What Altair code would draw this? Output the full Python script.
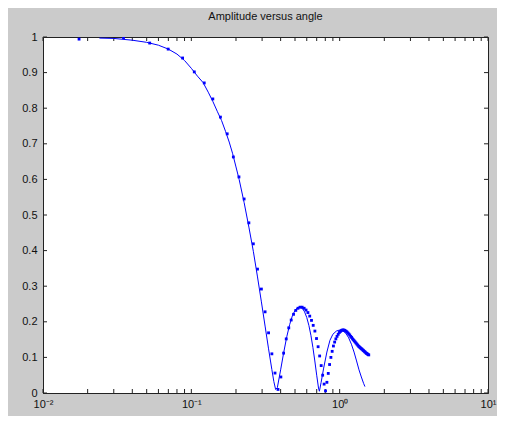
import altair as alt
import pandas as pd

# ---- data ----
dot_x = [0.0175, 0.0349, 0.0524, 0.0698, 0.0873, 0.1047, 0.1222, 0.1396, 0.1571, 0.1745,
         0.1920, 0.2094, 0.2269, 0.2443, 0.2618, 0.2793, 0.2967, 0.3142, 0.3316, 0.3491,
         0.3665, 0.3840, 0.4014, 0.4189, 0.4363, 0.4538, 0.4712, 0.4887, 0.5061, 0.5236,
         0.5411, 0.5585, 0.5760, 0.5934, 0.6109, 0.6283, 0.6458, 0.6632, 0.6807, 0.6981,
         0.7156, 0.7330, 0.7505, 0.7679, 0.7854, 0.8029, 0.8203, 0.8378, 0.8552, 0.8727,
         0.8901, 0.9076, 0.9250, 0.9425, 0.9599, 0.9774, 0.9948, 1.0123, 1.0297, 1.0472,
         1.0647, 1.0821, 1.0996, 1.1170, 1.1345, 1.1519, 1.1694, 1.1868, 1.2043, 1.2217,
         1.2392, 1.2566, 1.2741, 1.2915, 1.3090, 1.3265, 1.3439, 1.3614, 1.3788, 1.3963,
         1.4137, 1.4312, 1.4486, 1.4661, 1.4835, 1.5010, 1.5184, 1.5359, 1.5533, 1.5708]
dot_y = [0.994, 0.998, 0.983, 0.966, 0.941, 0.902, 0.871, 0.826, 0.775, 0.728,
         0.663, 0.607, 0.545, 0.478, 0.419, 0.348, 0.292, 0.228, 0.169, 0.110,
         0.056, 0.010, 0.045, 0.112, 0.152, 0.183, 0.205, 0.221, 0.232, 0.238,
         0.241, 0.241, 0.238, 0.233, 0.226, 0.216, 0.204, 0.190, 0.174, 0.153,
         0.130, 0.104, 0.077, 0.050, 0.025, 0.006, 0.030, 0.055, 0.080, 0.100,
         0.117, 0.132, 0.143, 0.152, 0.159, 0.165, 0.170, 0.173, 0.176, 0.177,
         0.177, 0.176, 0.174, 0.172, 0.169, 0.166, 0.163, 0.159, 0.156, 0.152,
         0.149, 0.146, 0.143, 0.140, 0.137, 0.134, 0.131, 0.129, 0.127, 0.125,
         0.123, 0.121, 0.119, 0.117, 0.115, 0.113, 0.111, 0.110, 0.108, 0.107]

line_x = [0.024, 0.03, 0.04, 0.05, 0.06, 0.07, 0.08, 0.09, 0.10, 0.11, 0.12, 0.13,
          0.14, 0.15, 0.16, 0.17, 0.18, 0.19, 0.20, 0.21, 0.2269, 0.2443, 0.2618,
          0.2793, 0.2967, 0.3142, 0.3316, 0.349, 0.36, 0.37, 0.38, 0.40, 0.42, 0.44,
          0.46, 0.48, 0.50, 0.52, 0.54, 0.56, 0.58, 0.60, 0.62, 0.64, 0.66, 0.68, 0.70,
          0.72, 0.73, 0.75, 0.78, 0.82, 0.86, 0.90, 0.95, 1.0, 1.05, 1.1, 1.15, 1.2,
          1.25, 1.3, 1.35, 1.4, 1.45, 1.48]
line_y = [0.997, 0.996, 0.991, 0.985, 0.977, 0.966, 0.952, 0.934, 0.912, 0.890, 0.872,
          0.845, 0.818, 0.790, 0.765, 0.735, 0.705, 0.672, 0.635, 0.600, 0.535, 0.466,
          0.398, 0.326, 0.256, 0.188, 0.124, 0.066, 0.032, 0.010, 0.015, 0.065, 0.115,
          0.158, 0.192, 0.217, 0.232, 0.240, 0.242, 0.238, 0.228, 0.212, 0.190, 0.162,
          0.128, 0.090, 0.050, 0.014, 0.005, 0.030, 0.070, 0.115, 0.148, 0.165, 0.174,
          0.177, 0.175, 0.168, 0.155, 0.137, 0.115, 0.090, 0.065, 0.045, 0.027, 0.018]

x_major = [0.01, 0.1, 1, 10]
x_minor = [0.02, 0.03, 0.04, 0.05, 0.06, 0.07, 0.08, 0.09,
           0.2, 0.3, 0.4, 0.5, 0.6, 0.7, 0.8, 0.9,
           2, 3, 4, 5, 6, 7, 8, 9]
y_ticks = [0, 0.1, 0.2, 0.3, 0.4, 0.5, 0.6, 0.7, 0.8, 0.9, 1.0]

W, H = 445, 356
BLUE = "#0000ff"
FONT = "Liberation Sans"
TICK = "#222222"

xscale = alt.Scale(type="log", domain=[0.01, 10], nice=False)
yscale = alt.Scale(domain=[0, 1], nice=False, zero=False)

dots = pd.DataFrame({"x": dot_x, "y": dot_y})
curve = pd.DataFrame({"x": line_x, "y": line_y})
xt = pd.DataFrame({"x": x_major + x_minor})
yt = pd.DataFrame({"y": y_ticks})

label_expr = ("datum.value == 0.01 ? '10⁻²' : datum.value == 0.1 ? '10⁻¹' : "
              "datum.value == 1 ? '10⁰' : '10¹'")

x_axis = alt.Axis(values=x_major, labelExpr=label_expr, ticks=False,
                  grid=False, labelPadding=5, labelFontSize=11,
                  labelFont=FONT, labelColor="#111111", labelOverlap=False,
                  domainColor=TICK, labelFlush=False, title=None)
y_axis = alt.Axis(values=y_ticks, format="~g", ticks=False, grid=False,
                  labelPadding=6, labelFontSize=11, labelFont=FONT,
                  labelOverlap=False, labelColor="#111111", domainColor=TICK,
                  labelFlush=False, title=None)

line = alt.Chart(curve).mark_line(color=BLUE, strokeWidth=1, clip=True).encode(
    x=alt.X("x:Q", scale=xscale, axis=x_axis),
    y=alt.Y("y:Q", scale=yscale, axis=y_axis),
)

points = alt.Chart(dots).mark_square(color=BLUE, size=8, opacity=1, clip=True).encode(
    x=alt.X("x:Q", scale=xscale, axis=x_axis),
    y=alt.Y("y:Q", scale=yscale, axis=y_axis),
)

xb = alt.Chart(xt).mark_rule(color=TICK, strokeWidth=1).encode(
    x=alt.X("x:Q", scale=xscale, axis=x_axis), y=alt.value(H), y2=alt.value(H - 4))
xtop = alt.Chart(xt).mark_rule(color=TICK, strokeWidth=1).encode(
    x=alt.X("x:Q", scale=xscale, axis=x_axis), y=alt.value(0), y2=alt.value(4))
yl = alt.Chart(yt).mark_rule(color=TICK, strokeWidth=1).encode(
    y=alt.Y("y:Q", scale=yscale, axis=y_axis), x=alt.value(0), x2=alt.value(4))
yr = alt.Chart(yt).mark_rule(color=TICK, strokeWidth=1).encode(
    y=alt.Y("y:Q", scale=yscale, axis=y_axis), x=alt.value(W), x2=alt.value(W - 4))

chart = alt.layer(xb, xtop, yl, yr, line, points).properties(
    width=W, height=H,
    title=alt.TitleParams("Amplitude versus angle", font=FONT, fontSize=11,
                          fontWeight="normal", color="#111111", offset=9,
                          anchor="middle"),
    background="#cbcbcb",
    padding={"left": 35, "top": 29, "right": 9, "bottom": 23},
    autosize=alt.AutoSizeParams(type="none"),
).configure_view(fill="white", stroke=TICK, strokeWidth=1)

chart.save("out.html", embed_options={"renderer": "svg", "actions": False})
